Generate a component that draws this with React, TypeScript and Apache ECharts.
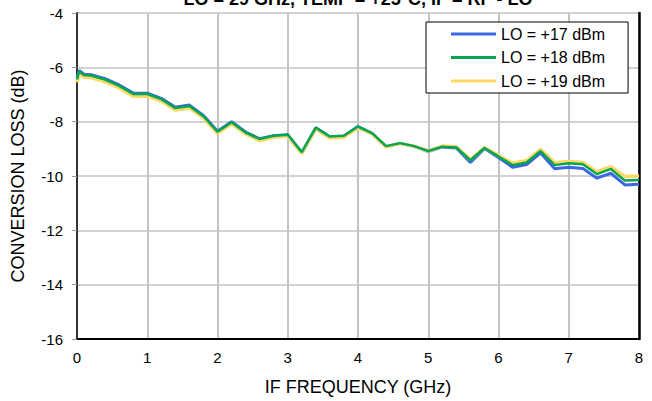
import React, { useEffect, useRef } from "react";
import * as echarts from "echarts";

const freqGHz = [0, 0.03, 0.1, 0.2, 0.4, 0.6, 0.8, 1.0, 1.2, 1.4, 1.6, 1.8, 2.0, 2.2, 2.4, 2.6, 2.8, 3.0, 3.2, 3.4, 3.6, 3.8, 4.0, 4.2, 4.4, 4.6, 4.8, 5.0, 5.2, 5.4, 5.6, 5.8, 6.0, 6.2, 6.4, 6.6, 6.8, 7.0, 7.2, 7.4, 7.6, 7.8, 8.0];

const lo17 = [-6.4, -6.12, -6.25, -6.27, -6.42, -6.65, -6.95, -6.95, -7.14, -7.47, -7.39, -7.77, -8.35, -8.0, -8.38, -8.63, -8.52, -8.48, -9.14, -8.22, -8.56, -8.53, -8.18, -8.43, -8.92, -8.8, -8.91, -9.1, -8.93, -8.97, -9.5, -8.99, -9.32, -9.68, -9.58, -9.15, -9.73, -9.68, -9.72, -10.08, -9.9, -10.33, -10.3];

const lo18 = [-6.45, -6.15, -6.28, -6.3, -6.45, -6.68, -6.98, -6.98, -7.17, -7.5, -7.42, -7.8, -8.37, -8.02, -8.4, -8.64, -8.52, -8.48, -9.12, -8.22, -8.55, -8.52, -8.18, -8.42, -8.9, -8.79, -8.9, -9.08, -8.92, -8.95, -9.42, -8.97, -9.28, -9.6, -9.5, -9.08, -9.6, -9.53, -9.57, -9.93, -9.74, -10.17, -10.15];

const lo19 = [-6.55, -6.25, -6.36, -6.38, -6.53, -6.76, -7.06, -7.06, -7.24, -7.57, -7.49, -7.86, -8.43, -8.08, -8.45, -8.7, -8.57, -8.53, -9.18, -8.27, -8.6, -8.57, -8.22, -8.45, -8.93, -8.8, -8.91, -9.08, -8.9, -8.92, -9.4, -8.95, -9.25, -9.53, -9.43, -9.02, -9.51, -9.47, -9.5, -9.84, -9.66, -10.02, -10.0];

const seriesNames = ["LO = +17 dBm", "LO = +18 dBm", "LO = +19 dBm"];
const titleText = "LO = 29 GHz, TEMP = +25°C, IF = RF - LO";
const xAxisName = "IF FREQUENCY (GHz)";
const yAxisName = "CONVERSION LOSS (dB)";

const FONT = "'Liberation Sans', Arial, Helvetica, sans-serif";

const pairs = (ys: number[]) => freqGHz.map((x, i) => [x, ys[i]]);

export default function App() {
  const ref = useRef<HTMLDivElement>(null);
  useEffect(() => {
    if (!ref.current) return;
    const chart = echarts.init(ref.current, null, { renderer: "svg" });
    chart.setOption({
      animation: false,
      backgroundColor: "#fff",
      textStyle: { fontFamily: FONT },
      graphic: [
        {
          type: "text",
          x: 358,
          y: -1,
          style: {
            text: titleText,
            fill: "#000",
            font: `bold 18px ${FONT}`,
            align: "center",
            verticalAlign: "middle",
          },
        },
      ],
      grid: {
        left: 77,
        right: 13,
        top: 13,
        bottom: 62,
        show: true,
        borderColor: "#555",
        borderWidth: 1.5,
        backgroundColor: "transparent",
      },
      legend: {
        orient: "vertical",
        left: 426,
        top: 22,
        data: seriesNames.map((n) => ({ name: n, icon: "rect" })),
        itemWidth: 45,
        itemHeight: 3,
        itemGap: 7.5,
        padding: [4, 23, 4, 25],
        backgroundColor: "#fff",
        borderColor: "#000",
        borderWidth: 1,
        borderRadius: 0,
        textStyle: { fontSize: 16, color: "#000", fontFamily: FONT, lineHeight: 16 },
      },
      xAxis: {
        type: "value",
        min: 0,
        max: 8,
        interval: 1,
        name: xAxisName,
        nameLocation: "middle",
        nameGap: 39,
        nameTextStyle: { fontSize: 18, color: "#000", fontFamily: FONT },
        axisLine: { show: true, onZero: false, lineStyle: { color: "#000", width: 2 } },
        axisTick: { show: false },
        axisLabel: { fontSize: 15, color: "#000", margin: 11, fontFamily: FONT },
        splitLine: { show: true, lineStyle: { color: "#c4c4c4", width: 2 } },
      },
      yAxis: [
        {
          type: "value",
          min: -16,
          max: -4,
          interval: 2,
          name: yAxisName,
          nameLocation: "middle",
          nameGap: 50,
          nameTextStyle: { fontSize: 18, color: "#000", fontFamily: FONT },
          axisLine: { show: true, onZero: false, lineStyle: { color: "#333", width: 2 } },
          axisTick: { show: true, length: 5, lineStyle: { color: "#999", width: 1 } },
          axisLabel: { fontSize: 15, color: "#000", margin: 14, fontFamily: FONT },
          splitLine: { show: true, lineStyle: { color: "#d2d2d2", width: 2 } },
        },
        {
          type: "value",
          position: "right",
          min: -16,
          max: -4,
          interval: 2,
          axisLine: { show: true, onZero: false, lineStyle: { color: "#000", width: 2.5 } },
          axisTick: { show: false },
          axisLabel: { show: false },
          splitLine: { show: false },
        },
      ],
      series: [
        {
          name: seriesNames[0],
          type: "line",
          data: pairs(lo17),
          showSymbol: false,
          color: "#3d66e3",
          lineStyle: { width: 3, color: "#3d66e3" },
          z: 2,
        },
        {
          name: seriesNames[2],
          type: "line",
          data: pairs(lo19),
          showSymbol: false,
          color: "#ffd966",
          lineStyle: { width: 3.5, color: "#ffd966" },
          z: 3,
        },
        {
          name: seriesNames[1],
          type: "line",
          data: pairs(lo18),
          showSymbol: false,
          color: "#00a650",
          lineStyle: { width: 2.5, color: "#00a650" },
          z: 4,
        },
      ],
    });
    return () => chart.dispose();
  }, []);
  return (
    <div
      ref={ref}
      style={{ position: "fixed", left: 0, top: 0, width: 652, height: 401 }}
    />
  );
}
